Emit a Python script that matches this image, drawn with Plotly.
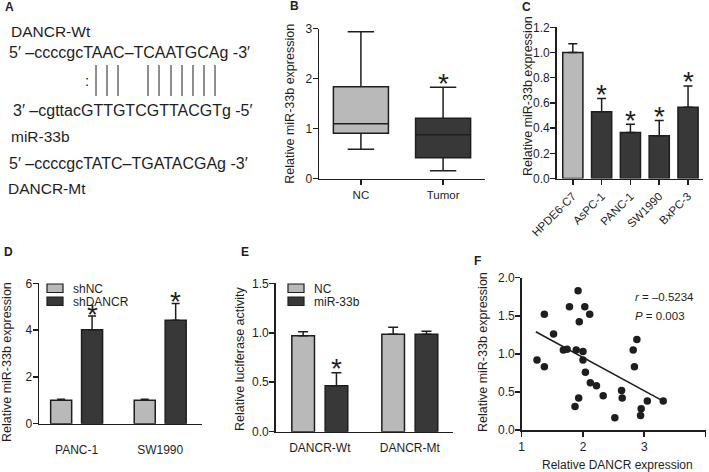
import plotly.graph_objects as go

W, H = 709, 472
FONT = "Liberation Sans, Arial, Helvetica, sans-serif"
LIGHT = "#b9b9b9"
DARK = "#383838"
INK = "#1e1e1e"

# ---------------- data ----------------
# Panel A (sequence alignment text)
a_wt_label = "DANCR-Wt"
a_wt_seq = "5′ –ccccgcTAAC–TCAATGCAg -3′"
a_mir_seq = "3′ –cgttacGTTGTCGTTACGTg -5′"
a_mir_label = "miR-33b"
a_mt_seq = "5′ –ccccgcTATC–TGATACGAg -3′"
a_mt_label = "DANCR-Mt"

# Panel B (box plot)
b_groups = ["NC", "Tumor"]
b_upper = [2.94, 1.83]
b_q3 = [1.84, 1.21]
b_median = [1.10, 0.88]
b_q1 = [0.91, 0.42]
b_lower = [0.59, 0.16]
b_sig = [False, True]

# Panel C
c_cells = ["HPDE6-C7", "AsPC-1", "PANC-1", "SW1990", "BxPC-3"]
c_values = [1.00, 0.53, 0.365, 0.34, 0.565]
c_errors = [0.07, 0.105, 0.065, 0.12, 0.17]
c_sig = [False, True, True, True, True]

# Panel D
d_cells = ["PANC-1", "SW1990"]
d_shnc = [1.0, 1.0]
d_shnc_err = [0.04, 0.04]
d_shdancr = [4.02, 4.42]
d_shdancr_err = [0.58, 0.72]

# Panel E
e_reporters = ["DANCR-Wt", "DANCR-Mt"]
e_nc = [0.97, 0.985]
e_nc_err = [0.04, 0.07]
e_mir = [0.465, 0.985]
e_mir_err = [0.13, 0.03]
e_sig = [True, False]

# Panel F
f_dancr = [1.25, 1.37, 1.37, 1.52, 1.78, 1.68, 1.74, 1.92, 1.94, 1.89, 2.00, 2.00,
           2.03, 2.11, 2.04, 2.12, 2.22, 1.93, 1.87, 2.33, 2.63, 2.64, 2.52, 2.82,
           2.88, 2.84, 2.95, 2.94, 3.05, 3.31]
f_mir = [0.92, 0.83, 1.52, 1.26, 1.62, 1.05, 1.06, 1.83, 1.42, 1.05, 1.03, 0.92,
         1.62, 1.52, 0.76, 0.62, 0.58, 0.42, 0.31, 0.45, 0.52, 0.42, 0.16, 1.05,
         1.19, 0.83, 0.28, 0.19, 0.38, 0.38]
f_fit_x = [1.23, 3.31]
f_fit_y = [1.29, 0.38]
f_r = "–0.5234"
f_p = "0.003"

# ---------------- helpers ----------------
def px(x):
    return x / W

def py(y):
    return 1 - y / H

BARGAP = 0.26
BARGROUPGAP = 0.32
SLOT = (1 - BARGAP) / 2

fig = go.Figure()

# Panel B boxes
b_fills = [LIGHT, DARK]
for i, g in enumerate(b_groups):
    fig.add_trace(go.Box(
        x=[g], q1=[b_q1[i]], median=[b_median[i]], q3=[b_q3[i]],
        lowerfence=[b_lower[i]], upperfence=[b_upper[i]],
        fillcolor=b_fills[i], line=dict(color=INK, width=1.5),
        width=0.67, whiskerwidth=0.48, boxpoints=False,
        xaxis="x", yaxis="y", showlegend=False, hoverinfo="skip"))

# Panel C bars
fig.add_trace(go.Bar(
    x=c_cells, y=c_values, width=0.7,
    marker=dict(color=[LIGHT] + [DARK] * (len(c_cells) - 1), line=dict(color=INK, width=1.5)),
    error_y=dict(type="data", array=c_errors, arrayminus=[0] * len(c_errors), symmetric=False,
                 color=INK, thickness=1.5, width=4.5),
    xaxis="x2", yaxis="y2", showlegend=False, hoverinfo="skip"))

# Panel D bars
fig.add_trace(go.Bar(
    x=d_cells, y=d_shnc, name="shNC",
    marker=dict(color=LIGHT, line=dict(color=INK, width=1.5)),
    error_y=dict(type="data", array=d_shnc_err, arrayminus=[0, 0], symmetric=False,
                 color=INK, thickness=1.5, width=4),
    xaxis="x3", yaxis="y3", showlegend=False, hoverinfo="skip"))
fig.add_trace(go.Bar(
    x=d_cells, y=d_shdancr, name="shDANCR",
    marker=dict(color=DARK, line=dict(color=INK, width=1.5)),
    error_y=dict(type="data", array=d_shdancr_err, arrayminus=[0, 0], symmetric=False,
                 color=INK, thickness=1.5, width=4),
    xaxis="x3", yaxis="y3", showlegend=False, hoverinfo="skip"))

# Panel E bars
fig.add_trace(go.Bar(
    x=e_reporters, y=e_nc, name="NC",
    marker=dict(color=LIGHT, line=dict(color=INK, width=1.5)),
    error_y=dict(type="data", array=e_nc_err, arrayminus=[0, 0], symmetric=False,
                 color=INK, thickness=1.5, width=5),
    xaxis="x4", yaxis="y4", showlegend=False, hoverinfo="skip"))
fig.add_trace(go.Bar(
    x=e_reporters, y=e_mir, name="miR-33b",
    marker=dict(color=DARK, line=dict(color=INK, width=1.5)),
    error_y=dict(type="data", array=e_mir_err, arrayminus=[0, 0], symmetric=False,
                 color=INK, thickness=1.5, width=5),
    xaxis="x4", yaxis="y4", showlegend=False, hoverinfo="skip"))

# Panel F scatter + fit
fig.add_trace(go.Scatter(
    x=f_dancr, y=f_mir, mode="markers",
    marker=dict(color=INK, size=7.5),
    xaxis="x5", yaxis="y5", showlegend=False, hoverinfo="skip"))
fig.add_trace(go.Scatter(
    x=f_fit_x, y=f_fit_y, mode="lines",
    line=dict(color=INK, width=1.5),
    xaxis="x5", yaxis="y5", showlegend=False, hoverinfo="skip"))

# ---------------- axes ----------------
def ax(**kw):
    base = dict(showline=True, linecolor=INK, linewidth=1.5, ticks="outside", ticklen=5,
                tickwidth=1.5, tickcolor=INK, showgrid=False, zeroline=False, automargin=False,
                tickfont=dict(family=FONT, size=12, color=INK), fixedrange=True)
    base.update(kw)
    return base

def yax(**kw):
    return ax(ticklabelstandoff=-2, **kw)

layout_axes = dict(
    xaxis=ax(domain=[px(319), px(485)], anchor="y", type="category", range=[-0.51, 1.51],
             tickfont=dict(family=FONT, size=11.5, color=INK)),
    yaxis=yax(domain=[py(178.7), py(28.7)], anchor="x", range=[0, 3], dtick=1),
    xaxis2=ax(domain=[px(556.7), px(703.3)], anchor="y2", type="category", range=[-0.56, 4.53],
              tickangle=-45, tickfont=dict(family=FONT, size=11.5, color=INK)),
    yaxis2=yax(domain=[py(178.5), py(27.3)], anchor="x2", range=[0, 1.2], dtick=0.2, tickformat=".1f"),
    xaxis3=ax(domain=[px(39), px(202)], anchor="y3", type="category", range=[-0.45, 1.5],
              ticks="", ticklabelstandoff=14, tickfont=dict(family=FONT, size=12, color=INK)),
    yaxis3=yax(domain=[py(423.7), py(283.3)], anchor="x3", range=[0, 6], dtick=2),
    xaxis4=ax(domain=[px(275.7), px(453)], anchor="y4", type="category", range=[-0.49, 1.48],
              ticks="", ticklabelstandoff=4, tickfont=dict(family=FONT, size=12, color=INK)),
    yaxis4=yax(domain=[py(431.7), py(283.3)], anchor="x4", range=[0, 1.5], dtick=0.5, tickformat=".1f"),
    xaxis5=ax(domain=[px(521.7), px(705.5)], anchor="y5", range=[1, 4], dtick=1),
    yaxis5=yax(domain=[py(430), py(277.7)], anchor="x5", range=[0, 2.0], dtick=0.5, tickformat=".1f"),
)

annotations = []

def text(x, y, s, size=12, xanchor="left", yanchor="middle", bold=False, angle=0):
    annotations.append(dict(
        x=px(x), y=py(y), xref="paper", yref="paper", text=("<b>%s</b>" % s) if bold else s,
        showarrow=False, xanchor=xanchor, yanchor=yanchor, textangle=angle,
        font=dict(family=FONT, size=size, color=INK)))

# panel letters
for lab, (lx, ly) in {"A": (9.5, 6.5), "B": (294, 5.5), "C": (526.5, 6.5),
                      "D": (8.7, 252.5), "E": (245, 252.5), "F": (477.5, 260.5)}.items():
    text(lx, ly, lab, size=12, xanchor="center", bold=True)

# panel A text
text(9, 31, a_wt_label, size=15.5)
text(7, 52, a_wt_seq, size=16)
text(87, 80, ":", size=15, xanchor="center")
text(11, 110, a_mir_seq, size=16)
text(9, 136, a_mir_label, size=15.5)
text(7, 163, a_mt_seq, size=16)
text(6, 189, a_mt_label, size=15.5)

shapes = []
pair_x = [96, 107, 118, 148, 159, 171, 182, 193, 204, 215]
for xx in pair_x:
    shapes.append(dict(type="line", xref="paper", yref="paper", x0=px(xx), x1=px(xx),
                       y0=py(65), y1=py(96), line=dict(color=INK, width=1)))

# y-axis titles
text(290, 103.7, "Relative miR-33b expression", size=12.5, xanchor="center", angle=-90)
text(528, 96, "Relative miR-33b expression", size=12.5, xanchor="center", angle=-90)
text(7, 362, "Relative miR-33b expression", size=12.5, xanchor="center", angle=-90)
text(240, 358, "Relative luciferase activity", size=12.5, xanchor="center", angle=-90)
text(483, 352, "Relative miR-33b expression", size=12.5, xanchor="center", angle=-90)
text(617, 465, "Relative DANCR expression", size=12, xanchor="center")

# F stats
text(633, 297, "<i>r</i> = " + f_r, size=11.5)
text(633, 316, "<i>P</i> = " + f_p, size=11.5)

# legends (manual)
def legend_item(x0, y0, color, label):
    shapes.append(dict(type="rect", xref="paper", yref="paper", x0=px(x0), x1=px(x0 + 16),
                       y0=py(y0 + 8.5), y1=py(y0), fillcolor=color, line=dict(color=INK, width=1.2)))
    text(x0 + 24, y0 + 4.5, label, size=12)

legend_item(47, 284, LIGHT, "shNC")
legend_item(47, 297, DARK, "shDANCR")
legend_item(288, 284, LIGHT, "NC")
legend_item(288, 297, DARK, "miR-33b")

# asterisks
def star(xref, yref, x, y, shift=4):
    annotations.append(dict(x=x, y=y, xref=xref, yref=yref, text="*", showarrow=False,
                            xanchor="center", yanchor="middle", yshift=shift,
                            font=dict(family=FONT, size=28, color=INK)))

for i, s in enumerate(b_sig):
    if s:
        star("x", "y", i, b_upper[i])
for i, s in enumerate(c_sig):
    if s:
        star("x2", "y2", i, c_values[i] + c_errors[i])
for i in range(len(d_cells)):
    star("x3", "y3", i + SLOT / 2, d_shdancr[i] + d_shdancr_err[i], shift=1.5)
for i, s in enumerate(e_sig):
    if s:
        star("x4", "y4", i + SLOT / 2, e_mir[i] + e_mir_err[i])

fig.update_layout(
    template="none",
    width=W, height=H, margin=dict(l=0, r=0, t=0, b=0, pad=0, autoexpand=False),
    paper_bgcolor="white", plot_bgcolor="white",
    barmode="group", bargap=BARGAP, bargroupgap=BARGROUPGAP,
    font=dict(family=FONT, size=12, color=INK),
    annotations=annotations, shapes=shapes, showlegend=False,
    **layout_axes)

fig.write_html("out.html", config={"displayModeBar": False, "staticPlot": True},
               post_script="document.body.style.margin='0';document.body.style.overflow='hidden';")
